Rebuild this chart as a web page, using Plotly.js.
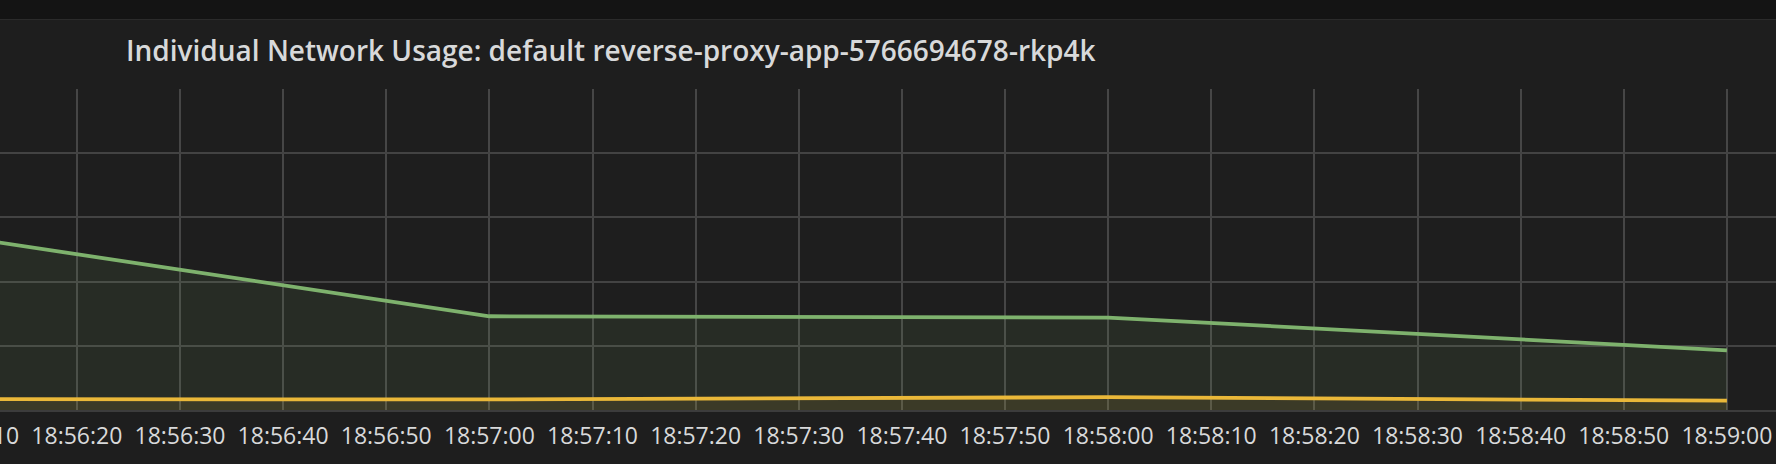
<!DOCTYPE html>
<html>
<head>
<meta charset="utf-8">
<script src="https://cdn.plot.ly/plotly-3.0.1.min.js"></script>
<style>
  html, body { margin: 0; padding: 0; background: #141414; overflow: hidden; width: 1776px; height: 464px; }
  #chart { position: absolute; left: -100px; top: 19px; width: 1876px; height: 445px; border-top: 1px solid #2b2b2b; box-sizing: border-box; }
</style>
</head>
<body>
<div id="chart"></div>
<script>
// Data
const times = ['2018-06-01 18:56:00', '2018-06-01 18:57:00', '2018-06-01 18:58:00', '2018-06-01 18:59:00'];
const greenSeries = [2.91, 1.46, 1.44, 0.93];
const yellowSeries = [0.17, 0.165, 0.20, 0.145];
const chartTitle = 'Individual Network Usage: default reverse-proxy-app-5766694678-rkp4k';
const xRange = ['2018-06-01 18:56:02.85', '2018-06-01 18:59:04.76'];
const yRange = [0, 5];

const traces = [
  {
    x: times, y: greenSeries, type: 'scatter', mode: 'lines', name: 'received',
    line: { color: '#7eb26d', width: 3.8 },
    fill: 'tozeroy', fillcolor: 'rgba(126,178,109,0.1)'
  },
  {
    x: times, y: yellowSeries, type: 'scatter', mode: 'lines', name: 'transmitted',
    line: { color: '#eab839', width: 3.8 },
    fill: 'tozeroy', fillcolor: 'rgba(234,184,57,0.1)'
  }
];

const W = 1876, H = 444;
const layout = {
  width: W, height: H,
  paper_bgcolor: '#1e1e1e', plot_bgcolor: '#1e1e1e',
  margin: { l: 0, r: 0, t: 69, b: 54, pad: 0 },
  showlegend: false,
  font: { family: '"Open Sans", sans-serif', color: '#d8d9da' },
  title: {
    text: chartTitle,
    font: { family: '"Open Sans", sans-serif', size: 28, weight: 600, color: '#d8d9da' },
    xref: 'container', yref: 'container',
    x: 226 / W, xanchor: 'left',
    y: 1 - 31 / H, yanchor: 'middle'
  },
  xaxis: {
    type: 'date', range: xRange,
    dtick: 10000, tickformat: '%H:%M:%S',
    showgrid: true, gridcolor: '#464646', gridwidth: 2,
    ticks: '', showline: true, linecolor: '#3c3c3c', linewidth: 2,
    zeroline: false, ticklabelstandoff: 4,
    tickfont: { family: '"Open Sans", sans-serif', size: 23, color: '#d8d9da' },
    fixedrange: true
  },
  yaxis: {
    range: yRange, dtick: 1,
    showgrid: true, gridcolor: '#434343', gridwidth: 2,
    showticklabels: false, zeroline: false, ticks: '',
    fixedrange: true
  }
};

Plotly.newPlot('chart', traces, layout, { staticPlot: true, displayModeBar: false });
</script>
</body>
</html>
